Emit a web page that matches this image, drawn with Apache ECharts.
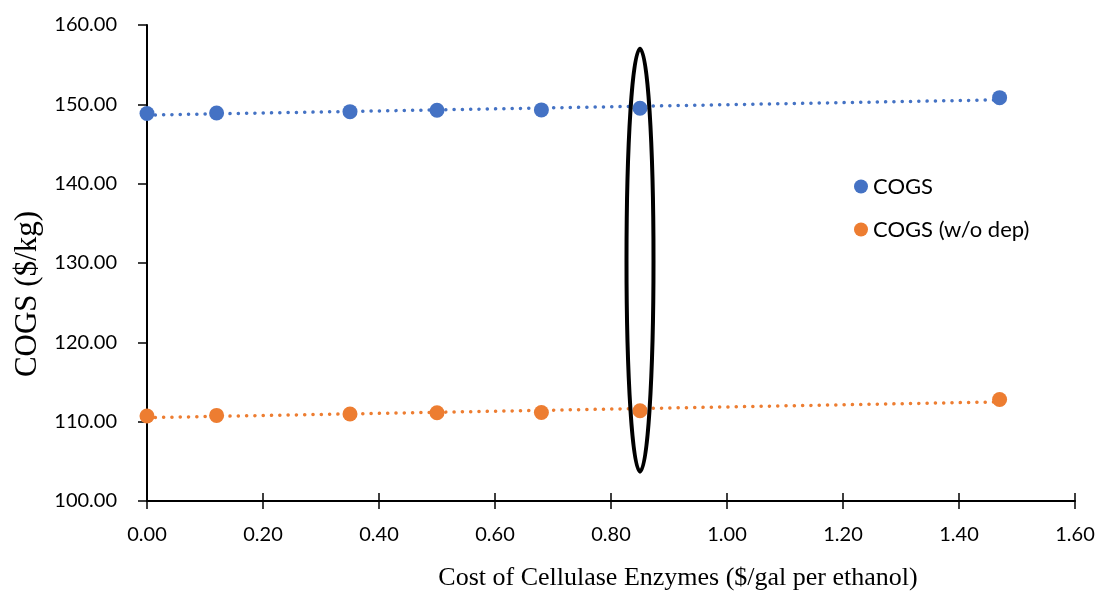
<!DOCTYPE html>
<html>
<head>
<meta charset="utf-8">
<script src="https://cdn.jsdelivr.net/npm/echarts@6/dist/echarts.min.js"></script>
<style>html,body{margin:0;padding:0;background:#fff;}#chart{width:1098px;height:596px;}</style>
</head>
<body>
<div id="chart"></div>
<script>
// ---- data ----
const enzymeCost = [0.00, 0.12, 0.35, 0.50, 0.68, 0.85, 1.47];
const cogs       = [148.84, 148.90, 149.08, 149.25, 149.30, 149.50, 150.84];
const cogsNoDep  = [110.71, 110.79, 110.96, 111.12, 111.16, 111.38, 112.79];
const seriesNames = ['COGS', 'COGS (w/o dep)'];
const xTicks = [0, 0.2, 0.4, 0.6, 0.8, 1.0, 1.2, 1.4, 1.6];
const yTicks = [100, 110, 120, 130, 140, 150, 160];
const highlightX = 0.85;          // highlighted case (ellipse)
const highlightY = [103.7, 157.0]; // vertical extent of the ellipse (data units)

const BLUE = '#4472C4', ORANGE = '#ED7D31';

function pairs(xs, ys) { return xs.map((x, i) => [x, ys[i]]); }
// Excel-style linear trendline over the data range
function trend(xs, ys) {
  const n = xs.length;
  const mx = xs.reduce((a, b) => a + b, 0) / n;
  const my = ys.reduce((a, b) => a + b, 0) / n;
  let sxy = 0, sxx = 0;
  for (let i = 0; i < n; i++) { sxy += (xs[i] - mx) * (ys[i] - my); sxx += (xs[i] - mx) ** 2; }
  const m = sxy / sxx, b = my - m * mx;
  const x0 = Math.min(...xs), x1 = Math.max(...xs);
  return [[x0, b + m * x0], [x1, b + m * x1]];
}

const labelFont = 'Lato';
const chart = echarts.init(document.getElementById('chart'), null, { renderer: 'canvas' });

const trendStyle = (c) => ({ color: c, width: 3.5, type: [0.1, 8.2], cap: 'round' });

chart.setOption({
  animation: false,
  backgroundColor: '#fff',
  grid: { left: 147, right: 23, top: 25, bottom: 91, containLabel: false },
  legend: {
    data: seriesNames.map(n => ({ name: n, icon: 'circle' })),
    orient: 'vertical',
    left: 849, top: 170,
    itemWidth: 14, itemHeight: 14, itemGap: 20, itemTextGap: 7,
    textStyle: { fontFamily: labelFont, fontSize: 22, color: '#000', lineHeight: 23 }
  },
  xAxis: [{
    type: 'value', min: 0, max: 1.6, interval: 0.2,
    splitLine: { show: false },
    axisLine: { lineStyle: { color: '#000', width: 2 } },
    axisTick: { length: 8, lineStyle: { color: '#000', width: 1.5 } },
    axisLabel: { margin: 24, fontFamily: labelFont, fontSize: 20, color: '#000',
      formatter: v => v.toFixed(2) },
    name: 'Cost of Cellulase Enzymes ($/gal per ethanol)',
    nameLocation: 'middle', nameGap: 64,
    nameTextStyle: { fontFamily: 'Liberation Serif', fontSize: 26, color: '#000', padding: [0, 0, 0, 134] }
  }, {
    type: 'value', min: 0, max: 1.6, interval: 0.2, position: 'bottom',
    splitLine: { show: false }, axisLine: { show: false }, axisLabel: { show: false },
    axisTick: { inside: true, length: 8, lineStyle: { color: '#000', width: 1.5 } }
  }],
  yAxis: [{
    type: 'value', min: 100, max: 160, interval: 10,
    splitLine: { show: false },
    axisLine: { show: true, lineStyle: { color: '#000', width: 2 } },
    axisTick: { show: true, length: 9, lineStyle: { color: '#000', width: 1.5 } },
    axisLabel: { margin: 30, fontFamily: labelFont, fontSize: 20, color: '#000',
      formatter: v => v.toFixed(2) },
    name: 'COGS ($/kg)', nameLocation: 'middle', nameGap: 102, nameRotate: 90,
    nameTextStyle: { fontFamily: 'Liberation Serif', fontSize: 31, color: '#000', padding: [0, 62, 0, 0] }
  }],
  series: [
    { name: seriesNames[0], type: 'line', data: trend(enzymeCost, cogs), showSymbol: false, symbol: 'none',
      lineStyle: trendStyle(BLUE), itemStyle: { color: BLUE }, z: 2, silent: true },
    { name: seriesNames[1], type: 'line', data: trend(enzymeCost, cogsNoDep), showSymbol: false, symbol: 'none',
      lineStyle: trendStyle(ORANGE), itemStyle: { color: ORANGE }, z: 2, silent: true },
    { name: seriesNames[0], type: 'scatter', data: pairs(enzymeCost, cogs), symbol: 'circle', symbolSize: 15,
      itemStyle: { color: BLUE, opacity: 1 }, z: 3 },
    { name: seriesNames[1], type: 'scatter', data: pairs(enzymeCost, cogsNoDep), symbol: 'circle', symbolSize: 15,
      itemStyle: { color: ORANGE, opacity: 1 }, z: 3 },
    { type: 'custom', z: 4, clip: false, silent: true,
      data: [[highlightX, (highlightY[0] + highlightY[1]) / 2]],
      renderItem: function (params, api) {
        const c = api.coord([api.value(0), api.value(1)]);
        const top = api.coord([api.value(0), highlightY[1]]);
        const ry = c[1] - top[1];
        return { type: 'ellipse', shape: { cx: c[0], cy: c[1], rx: 13.5, ry: ry },
          style: { fill: 'none', stroke: '#000', lineWidth: 4 } };
      }
    }
  ]
});
</script>
</body>
</html>
